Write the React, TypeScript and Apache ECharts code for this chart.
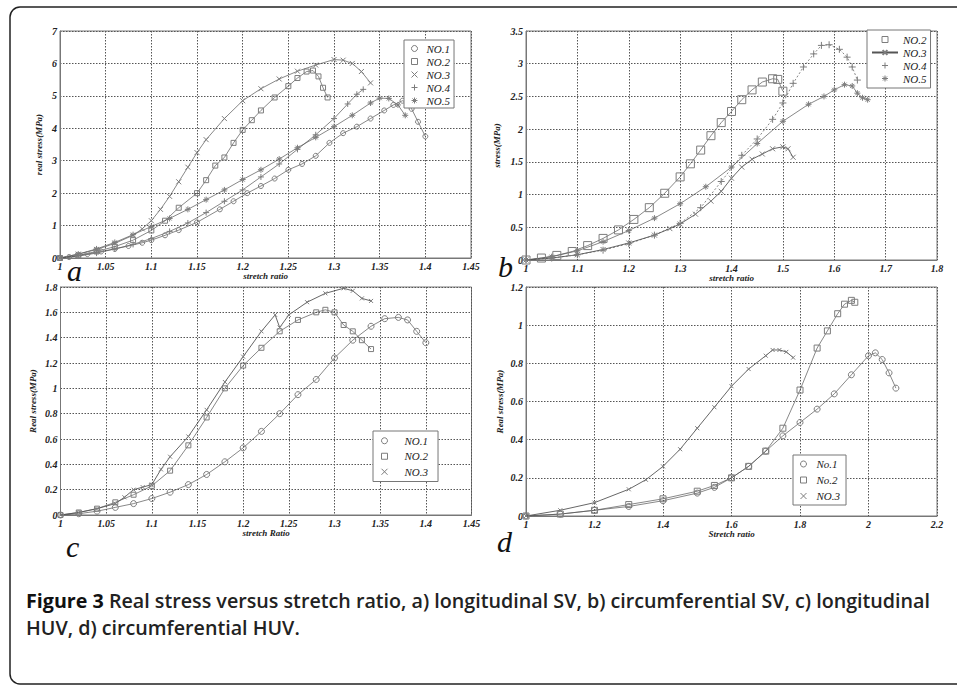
import React, { useEffect, useRef } from "react";
import * as echarts from "echarts";

// ---------- Panel a: longitudinal SV ----------
const aNo1X = [1.0, 1.01, 1.02, 1.03, 1.045, 1.06, 1.075, 1.09, 1.1, 1.115, 1.13, 1.15, 1.175, 1.19, 1.205, 1.22, 1.235, 1.25, 1.265, 1.28, 1.295, 1.31, 1.325, 1.34, 1.355, 1.365, 1.375, 1.38, 1.385, 1.392, 1.4];
const aNo1Y = [0, 0.03, 0.07, 0.12, 0.2, 0.28, 0.37, 0.47, 0.55, 0.7, 0.86, 1.1, 1.5, 1.75, 2.0, 2.22, 2.45, 2.72, 2.9, 3.15, 3.55, 3.85, 4.05, 4.3, 4.55, 4.72, 4.85, 4.8, 4.6, 4.2, 3.75];
const aNo2X = [1.0, 1.02, 1.04, 1.06, 1.08, 1.1, 1.115, 1.13, 1.15, 1.16, 1.17, 1.18, 1.19, 1.2, 1.21, 1.22, 1.235, 1.25, 1.26, 1.27, 1.277, 1.283, 1.288, 1.293];
const aNo2Y = [0, 0.08, 0.2, 0.35, 0.55, 0.85, 1.15, 1.55, 2.0, 2.4, 2.85, 3.1, 3.55, 3.95, 4.25, 4.55, 4.95, 5.3, 5.55, 5.75, 5.78, 5.6, 5.25, 4.95];
const aNo3X = [1.0, 1.02, 1.04, 1.06, 1.08, 1.09, 1.1, 1.11, 1.12, 1.13, 1.14, 1.15, 1.16, 1.18, 1.2, 1.22, 1.24, 1.26, 1.28, 1.3, 1.31, 1.32, 1.33, 1.34];
const aNo3Y = [0, 0.12, 0.26, 0.45, 0.7, 0.9, 1.15, 1.5, 1.9, 2.35, 2.8, 3.25, 3.65, 4.3, 4.85, 5.22, 5.52, 5.76, 5.95, 6.12, 6.1, 6.0, 5.75, 5.4];
const aNo4X = [1.0, 1.02, 1.04, 1.06, 1.08, 1.1, 1.12, 1.14, 1.16, 1.18, 1.2, 1.22, 1.24, 1.26, 1.28, 1.3, 1.315, 1.325, 1.332];
const aNo4Y = [0, 0.06, 0.15, 0.28, 0.42, 0.6, 0.82, 1.08, 1.4, 1.75, 2.1, 2.5, 2.9, 3.35, 3.8, 4.3, 4.75, 5.05, 5.2];
const aNo5X = [1.0, 1.02, 1.04, 1.06, 1.08, 1.1, 1.12, 1.14, 1.16, 1.18, 1.2, 1.22, 1.24, 1.26, 1.28, 1.3, 1.32, 1.34, 1.35, 1.36, 1.37, 1.378];
const aNo5Y = [0, 0.12, 0.28, 0.48, 0.72, 0.97, 1.22, 1.5, 1.8, 2.1, 2.42, 2.72, 3.05, 3.4, 3.72, 4.05, 4.4, 4.78, 4.93, 4.92, 4.72, 4.4];

// ---------- Panel b: circumferential SV ----------
const bNo2X = [1.0, 1.03, 1.06, 1.09, 1.12, 1.15, 1.18, 1.21, 1.24, 1.27, 1.3, 1.32, 1.34, 1.36, 1.38, 1.4, 1.42, 1.44, 1.46, 1.48, 1.49, 1.5];
const bNo2Y = [0, 0.03, 0.07, 0.13, 0.22, 0.33, 0.46, 0.62, 0.8, 1.02, 1.27, 1.47, 1.68, 1.9, 2.1, 2.27, 2.45, 2.6, 2.72, 2.77, 2.76, 2.58];
const bNo3X = [1.0, 1.05, 1.1, 1.15, 1.2, 1.25, 1.28, 1.3, 1.33, 1.36, 1.38, 1.4, 1.42, 1.44, 1.46, 1.48, 1.5, 1.51, 1.52];
const bNo3Y = [0, 0.03, 0.08, 0.16, 0.26, 0.38, 0.48, 0.55, 0.7, 0.9, 1.05, 1.25, 1.42, 1.54, 1.62, 1.7, 1.73, 1.7, 1.57];
const bNo4X = [1.0, 1.05, 1.1, 1.15, 1.2, 1.25, 1.3, 1.34, 1.38, 1.42, 1.45, 1.48, 1.5, 1.52, 1.54, 1.56, 1.575, 1.59, 1.61, 1.625, 1.635, 1.645];
const bNo4Y = [0, 0.03, 0.08, 0.15, 0.25, 0.38, 0.56, 0.8, 1.2, 1.6, 1.85, 2.15, 2.4, 2.7, 2.95, 3.15, 3.28, 3.29, 3.22, 3.1, 2.95, 2.75];
const bNo5X = [1.0, 1.05, 1.1, 1.15, 1.2, 1.25, 1.3, 1.35, 1.4, 1.45, 1.5, 1.55, 1.58, 1.6, 1.62, 1.635, 1.645, 1.655, 1.665];
const bNo5Y = [0, 0.05, 0.14, 0.28, 0.45, 0.64, 0.86, 1.12, 1.42, 1.78, 2.12, 2.38, 2.5, 2.6, 2.68, 2.66, 2.55, 2.48, 2.45];

// ---------- Panel c: longitudinal HUV ----------
const cNo1X = [1.0, 1.02, 1.04, 1.06, 1.08, 1.1, 1.12, 1.14, 1.16, 1.18, 1.2, 1.22, 1.24, 1.26, 1.28, 1.3, 1.32, 1.34, 1.355, 1.37, 1.38, 1.39, 1.4];
const cNo1Y = [0, 0.01, 0.03, 0.06, 0.09, 0.13, 0.18, 0.24, 0.32, 0.42, 0.53, 0.66, 0.8, 0.95, 1.07, 1.24, 1.38, 1.49, 1.55, 1.56, 1.54, 1.45, 1.36];
const cNo2X = [1.0, 1.02, 1.04, 1.06, 1.08, 1.1, 1.12, 1.14, 1.16, 1.18, 1.2, 1.22, 1.24, 1.26, 1.28, 1.29, 1.3, 1.31, 1.32, 1.33, 1.34];
const cNo2Y = [0, 0.02, 0.05, 0.1, 0.16, 0.23, 0.35, 0.55, 0.77, 1.0, 1.18, 1.32, 1.45, 1.54, 1.6, 1.62, 1.6, 1.5, 1.45, 1.38, 1.31];
const cNo3X = [1.0, 1.02, 1.04, 1.06, 1.07, 1.08, 1.09, 1.1, 1.11, 1.12, 1.14, 1.16, 1.18, 1.2, 1.22, 1.235, 1.24, 1.25, 1.27, 1.29, 1.31, 1.32, 1.33, 1.34];
const cNo3Y = [0, 0.02, 0.05, 0.09, 0.14, 0.2, 0.22, 0.24, 0.36, 0.46, 0.62, 0.83, 1.05, 1.25, 1.45, 1.58, 1.48, 1.58, 1.68, 1.75, 1.79, 1.77, 1.71, 1.69];

// ---------- Panel d: circumferential HUV ----------
const dNo1X = [1.0, 1.1, 1.2, 1.3, 1.4, 1.5, 1.55, 1.6, 1.65, 1.7, 1.75, 1.8, 1.85, 1.9, 1.95, 2.0, 2.02, 2.04, 2.06, 2.08];
const dNo1Y = [0, 0.01, 0.03, 0.05, 0.08, 0.12, 0.15, 0.2, 0.26, 0.34, 0.42, 0.49, 0.56, 0.64, 0.74, 0.84, 0.855, 0.82, 0.75, 0.67];
const dNo2X = [1.0, 1.1, 1.2, 1.3, 1.4, 1.5, 1.55, 1.6, 1.65, 1.7, 1.75, 1.8, 1.85, 1.88, 1.91, 1.93, 1.95, 1.96];
const dNo2Y = [0, 0.01, 0.03, 0.06, 0.09, 0.13, 0.16, 0.2, 0.26, 0.34, 0.46, 0.66, 0.88, 0.97, 1.06, 1.11, 1.13, 1.12];
const dNo3X = [1.0, 1.1, 1.2, 1.3, 1.35, 1.4, 1.45, 1.5, 1.55, 1.6, 1.65, 1.7, 1.72, 1.74, 1.76, 1.78];
const dNo3Y = [0, 0.03, 0.07, 0.14, 0.19, 0.26, 0.35, 0.46, 0.57, 0.68, 0.77, 0.84, 0.87, 0.87, 0.86, 0.83];

// ---------- Axis ranges ----------
const xRanges = [
  { min: 1, max: 1.45, interval: 0.05, name: "stretch ratio" },
  { min: 1, max: 1.8, interval: 0.1, name: "stretch ratio" },
  { min: 1, max: 1.45, interval: 0.05, name: "stretch Ratio" },
  { min: 1, max: 2.2, interval: 0.2, name: "Stretch ratio" },
];
const yRanges = [
  { min: 0, max: 7, interval: 1, name: "real stress(MPa)" },
  { min: 0, max: 3.5, interval: 0.5, name: "stress(MPa)" },
  { min: 0, max: 1.8, interval: 0.2, name: "Real stress(MPa)" },
  { min: 0, max: 1.2, interval: 0.2, name: "Real stress(MPa)" },
];
const panelLetters = ["a", "b", "c", "d"];

const captionLine1 = "Real stress versus stretch ratio, a) longitudinal SV, b) circumferential SV, c) longitudinal";
const captionLine2 = "HUV, d) circumferential HUV.";

// layout (pixels)
const grids = [
  { left: 60, top: 31, width: 411, height: 227 },
  { left: 526, top: 31, width: 411, height: 229 },
  { left: 60.5, top: 287, width: 411, height: 228 },
  { left: 526, top: 287, width: 411, height: 229 },
];
const yNameGaps = [17, 25, 23, 22];

const SYM = {
  circle: "circle",
  square: "path://M0,0L10,0L10,10L0,10Z",
  x: "path://M0,0L10,10M10,0L0,10",
  plus: "path://M5,0L5,10M0,5L10,5",
  star: "path://M5,0L5,10M0,5L10,5M1.6,1.6L8.4,8.4M8.4,1.6L1.6,8.4",
};

const MARK = "#7d7d7d";
const LINE = "#555";
const SERIF = "Liberation Serif, DejaVu Serif, serif";

function zip(xs: number[], ys: number[]) {
  return xs.map((x, i) => [x, ys[i]]);
}

function mk(panel: string, label: string, idx: number, xs: number[], ys: number[], symbol: string, size: number, lineType: any = "solid", lineWidth = 0.7) {
  return {
    type: "line",
    name: panel + "|" + label,
    xAxisIndex: idx,
    yAxisIndex: idx,
    data: zip(xs, ys),
    symbol,
    symbolSize: size,
    showSymbol: true,
    showAllSymbol: true,
    silent: true,
    lineStyle: { color: LINE, width: lineWidth, type: lineType },
    itemStyle: { color: "transparent", borderColor: MARK, borderWidth: 1 },
    emphasis: { disabled: true },
  };
}

function legendItem(panel: string, label: string, icon?: string) {
  const item: any = { name: panel + "|" + label };
  if (icon) {
    item.icon = icon;
    item.itemStyle = { color: "transparent", borderColor: MARK, borderWidth: 1 };
  }
  return item;
}

const legendText = { fontFamily: SERIF, fontStyle: "italic", fontSize: 11, color: "#222", lineHeight: 13 };

export default function App() {
  const ref = useRef<HTMLDivElement>(null);
  useEffect(() => {
    if (!ref.current) return;
    const chart = echarts.init(ref.current, undefined, { renderer: "svg" });

    const axisLabel = { fontFamily: SERIF, fontStyle: "italic", fontWeight: "bold", fontSize: 10, color: "#222" };
    const nameStyle = { fontFamily: SERIF, fontStyle: "italic", fontWeight: "bold", fontSize: 9, color: "#222" };

    const xAxis = xRanges.map((r, i) => ({
      type: "value",
      gridIndex: i,
      min: r.min,
      max: r.max,
      interval: r.interval,
      name: r.name,
      nameLocation: "middle",
      nameGap: 13,
      nameTextStyle: nameStyle,
      axisLine: { show: true, lineStyle: { color: "#777", width: 1 } },
      axisTick: { show: false },
      axisLabel: { ...axisLabel, margin: 3 },
      splitLine: { show: true, lineStyle: { color: "#555", type: [1.5, 1.5], width: 1 } },
    }));
    const yAxis = yRanges.map((r, i) => ({
      type: "value",
      gridIndex: i,
      min: r.min,
      max: r.max,
      interval: r.interval,
      name: r.name,
      nameLocation: "middle",
      nameGap: yNameGaps[i],
      nameTextStyle: nameStyle,
      axisLine: { show: true, lineStyle: { color: "#777", width: 1 } },
      axisTick: { show: false },
      axisLabel: { ...axisLabel, margin: 3 },
      splitLine: { show: true, lineStyle: { color: "#555", type: [1.5, 1.5], width: 1 } },
    }));

    const series = [
      mk("a", "NO.1", 0, aNo1X, aNo1Y, SYM.circle, 5),
      mk("a", "NO.2", 0, aNo2X, aNo2Y, SYM.square, 5),
      mk("a", "NO.3", 0, aNo3X, aNo3Y, SYM.x, 5),
      mk("a", "NO.4", 0, aNo4X, aNo4Y, SYM.plus, 6),
      mk("a", "NO.5", 0, aNo5X, aNo5Y, SYM.star, 6),
      mk("b", "NO.2", 1, bNo2X, bNo2Y, SYM.square, 8),
      mk("b", "NO.3", 1, bNo3X, bNo3Y, SYM.x, 5, "solid", 0.9),
      mk("b", "NO.4", 1, bNo4X, bNo4Y, SYM.plus, 7, [2, 2]),
      mk("b", "NO.5", 1, bNo5X, bNo5Y, SYM.star, 6),
      mk("c", "NO.1", 2, cNo1X, cNo1Y, SYM.circle, 6),
      mk("c", "NO.2", 2, cNo2X, cNo2Y, SYM.square, 5),
      mk("c", "NO.3", 2, cNo3X, cNo3Y, SYM.x, 4, "solid", 0.9),
      mk("d", "No.1", 3, dNo1X, dNo1Y, SYM.circle, 6),
      mk("d", "No.2", 3, dNo2X, dNo2Y, SYM.square, 6),
      mk("d", "NO.3", 3, dNo3X, dNo3Y, SYM.x, 4, "solid", 0.9),
    ];

    const legendBase = {
      orient: "vertical",
      backgroundColor: "#fff",
      borderColor: "#777",
      borderWidth: 1,
      itemGap: 0,
      itemHeight: 6,
      itemWidth: 14,
      itemTextGap: 5,
      selectedMode: false,
      textStyle: legendText,
      formatter: (n: string) => n.split("|")[1],
    };

    const legend = [
      {
        ...legendBase,
        left: 404,
        top: 40,
        padding: [2, 4, 1, 7],
        data: [
          legendItem("a", "NO.1", SYM.circle),
          legendItem("a", "NO.2", SYM.square),
          legendItem("a", "NO.3", SYM.x),
          legendItem("a", "NO.4", SYM.plus),
          legendItem("a", "NO.5", SYM.star),
        ],
      },
      {
        ...legendBase,
        left: 867,
        top: 30,
        itemWidth: 26,
        itemTextGap: 2,
        padding: [3, 4, 3, 4],
        data: [
          legendItem("b", "NO.2", SYM.square),
          legendItem("b", "NO.3"),
          legendItem("b", "NO.4", SYM.plus),
          legendItem("b", "NO.5", SYM.star),
        ],
      },
      {
        ...legendBase,
        left: 373,
        top: 431,
        itemWidth: 30,
        itemTextGap: 8,
        textStyle: { ...legendText, lineHeight: 15.5 },
        padding: [2, 10, 2, 8],
        data: [
          legendItem("c", "NO.1", SYM.circle),
          legendItem("c", "NO.2", SYM.square),
          legendItem("c", "NO.3", SYM.x),
        ],
      },
      {
        ...legendBase,
        left: 793,
        top: 455,
        itemWidth: 16,
        itemTextGap: 7,
        textStyle: { ...legendText, lineHeight: 16 },
        padding: [1, 6, 1, 7],
        data: [
          legendItem("d", "No.1", SYM.circle),
          legendItem("d", "No.2", SYM.square),
          legendItem("d", "NO.3", SYM.x),
        ],
      },
    ];

    const letterPos = [
      [67, 270],
      [498, 266],
      [66, 546],
      [497, 541],
    ];

    const graphic: any[] = [
      {
        type: "rect",
        shape: { x: 10, y: 7, width: 1000, height: 677, r: 10 },
        style: { fill: "none", stroke: "#222", lineWidth: 1.5 },
        silent: true,
        z: -10,
      },
      ...panelLetters.map((t, i) => ({
        type: "text",
        x: letterPos[i][0],
        y: letterPos[i][1],
        silent: true,
        style: {
          text: t,
          fontFamily: SERIF,
          fontStyle: "italic",
          fontSize: 30,
          fill: "#111",
          verticalAlign: "middle",
        },
      })),
      {
        type: "text",
        x: 26,
        y: 600,
        silent: true,
        style: {
          text: "{b|Figure 3} " + captionLine1,
          fontFamily: "Open Sans",
          fontSize: 19.7,
          fontWeight: 600,
          fill: "#222",
          verticalAlign: "middle",
          rich: {
            b: { fontFamily: "Open Sans", fontSize: 19.7, fontWeight: "bold", fill: "#111" },
          },
        },
      },
      {
        type: "text",
        x: 26,
        y: 627,
        silent: true,
        style: {
          text: captionLine2,
          fontFamily: "Open Sans",
          fontSize: 19.7,
          fontWeight: 600,
          fill: "#222",
          verticalAlign: "middle",
        },
      },
    ];

    chart.setOption({
      animation: false,
      backgroundColor: "#fff",
      grid: grids.map((g) => ({ ...g, show: true, borderColor: "#7a7a7a", borderWidth: 1, backgroundColor: "#fff", containLabel: false })),
      xAxis,
      yAxis,
      legend,
      series,
      graphic,
    });
    return () => chart.dispose();
  }, []);
  return <div ref={ref} style={{ position: "absolute", left: 0, top: 0, width: 957, height: 687 }} />;
}
